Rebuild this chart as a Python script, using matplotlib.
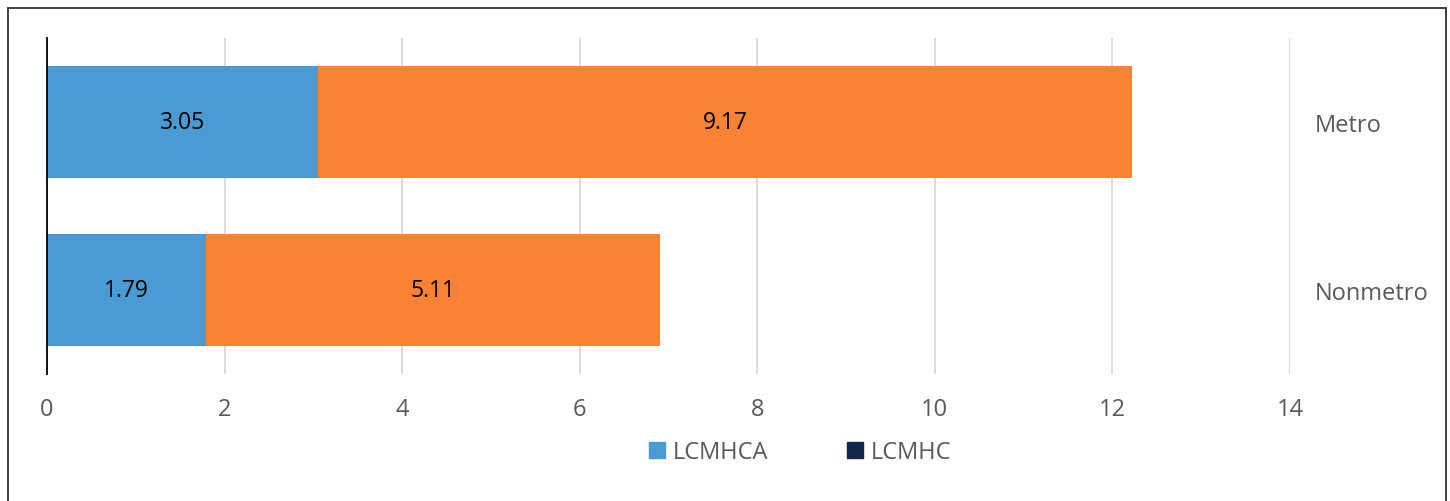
import matplotlib.pyplot as plt
from matplotlib.lines import Line2D
from matplotlib.patches import Rectangle

plt.rcParams['font.family'] = ['Open Sans', 'DejaVu Sans']

# data
categories = ['Nonmetro', 'Metro']
lcmhca = [1.79, 3.05]
lcmhc = [5.11, 9.17]
xticks = [0, 2, 4, 6, 8, 10, 12, 14]

c_blue = '#4A9BD3'
c_orange = '#F98235'
c_navy = '#13264A'
c_text = '#595959'

W, H = 1450, 502
fig = plt.figure(figsize=(W / 100, H / 100), dpi=100)
ax = fig.add_axes([47 / W, 127 / H, 1243 / W, 336 / H])

pos = list(range(len(categories)))
b1 = ax.barh(pos, lcmhca, height=0.667, color=c_blue, zorder=3)
b2 = ax.barh(pos, lcmhc, left=lcmhca, height=0.667, color=c_orange, zorder=3)
ax.bar_label(b1, labels=['%.2f' % v for v in lcmhca], label_type='center', fontsize=16.5, color='black')
ax.bar_label(b2, labels=['%.2f' % v for v in lcmhc], label_type='center', fontsize=16.5, color='black')

ax.set_xlim(0, 14)
ax.set_ylim(-0.5, len(categories) - 0.5)
ax.set_xticks(xticks)
ax.set_yticks(pos)
ax.set_yticklabels(categories)
ax.yaxis.tick_right()
for x in xticks[1:]:
    ax.axvline(x, color='#D9D9D9', lw=1.3, zorder=1)
ax.tick_params(axis='x', length=0, pad=16.5, labelsize=17, labelcolor=c_text)
ax.tick_params(axis='y', length=0, pad=18, labelsize=17, labelcolor=c_text)
for s in ['top', 'right', 'bottom']:
    ax.spines[s].set_visible(False)
ax.spines['left'].set_color('black')
ax.spines['left'].set_linewidth(1.3)
ax.spines['left'].set_zorder(4)

handles = [Line2D([], [], marker='s', ls='', markersize=12, color=c_blue),
           Line2D([], [], marker='s', ls='', markersize=12, color=c_navy)]
fig.legend(handles, ['LCMHCA', 'LCMHC'], loc='center', bbox_to_anchor=(800 / W, 1 - 453 / H),
           ncol=2, frameon=False, fontsize=17, labelcolor=c_text,
           handlelength=0.7, handletextpad=0.35, columnspacing=3.3)

# outer chart border
fig.patches.append(Rectangle((7.5 / W, -0.1), (1446 - 7.5) / W, 1.1 - 9 / H,
                             transform=fig.transFigure, fill=False,
                             edgecolor='#404040', lw=1.4))

fig.savefig('out.png', dpi=100)
